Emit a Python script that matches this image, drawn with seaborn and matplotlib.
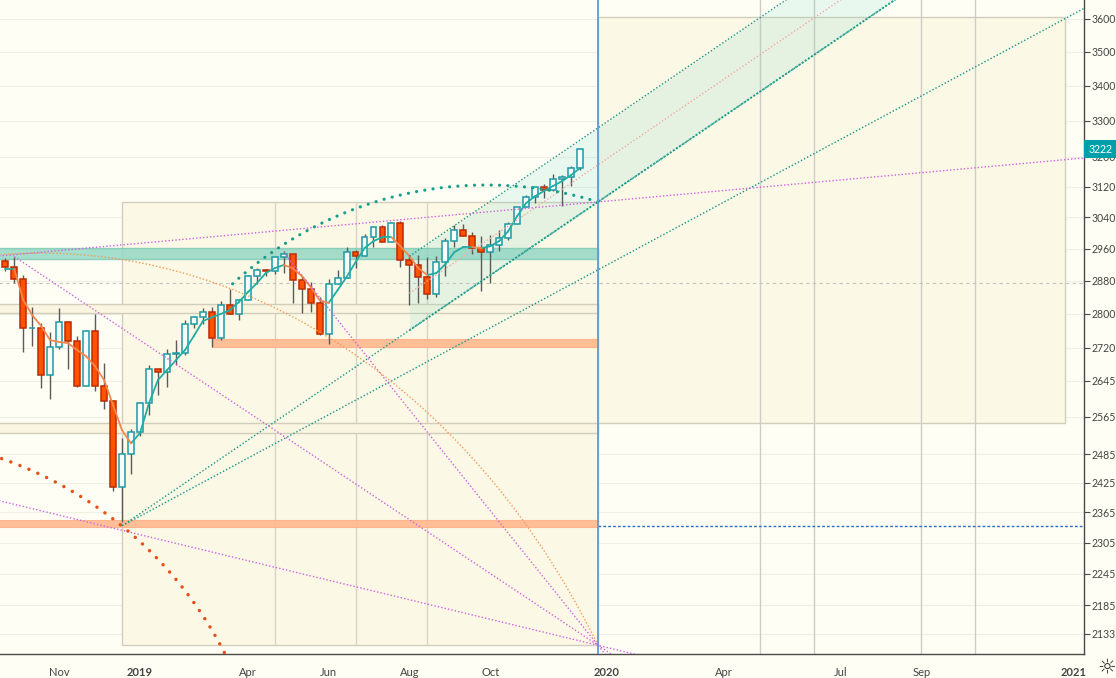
import numpy as np
import pandas as pd
import seaborn as sns
import matplotlib.pyplot as plt
from matplotlib.patches import Rectangle
from matplotlib.ticker import FixedLocator, NullLocator

# weekly S&P 500 candles, week of 2018-09-24 to week of 2019-12-16
first_week = "2018-09-24"

opens = [2929.67, 2913.98, 2885.57, 2767.13, 2767.78, 2658.69, 2723.06, 2781.01, 2736.27, 2632.56,
         2760.17, 2633.08, 2599.95, 2416.62, 2485.74, 2531.94, 2596.26, 2670.71, 2664.76, 2706.53,
         2707.88, 2775.60, 2792.67, 2803.69, 2743.07, 2822.48, 2800.71, 2834.40, 2892.74, 2907.41,
         2905.03, 2939.88, 2945.64, 2881.40, 2859.53, 2826.06, 2752.06, 2873.34, 2886.98, 2950.46,
         2941.76, 2990.41, 3013.77, 2976.61, 3025.86, 2932.05, 2918.65, 2888.68, 2847.11, 2926.46,
         2978.71, 3007.39, 2992.07, 2961.79, 2952.01, 2970.27, 2986.20, 3022.55, 3066.91, 3093.08,
         3120.46, 3110.29, 3140.98, 3145.91, 3168.80]
highs = [2937.0, 2939.9, 2894.8, 2816.9, 2778.9, 2756.6, 2815.2, 2782.0, 2746.8, 2760.9,
         2800.2, 2685.4, 2601.1, 2520.3, 2538.1, 2597.8, 2681.8, 2672.4, 2716.7, 2739.0,
         2785.0, 2794.2, 2813.5, 2816.9, 2830.7, 2860.3, 2836.0, 2893.4, 2910.5, 2909.6,
         2939.9, 2954.1, 2945.6, 2892.2, 2876.3, 2840.5, 2885.0, 2905.5, 2964.2, 2956.0,
         2995.8, 3017.8, 3021.0, 3028.0, 3029.3, 2943.3, 2943.9, 2939.1, 2940.4, 2985.9,
         3020.9, 3022.1, 3002.4, 2992.5, 2993.3, 3008.3, 3027.4, 3067.0, 3097.8, 3120.5,
         3127.6, 3154.3, 3150.6, 3176.3, 3225.7]
lows = [2903.3, 2874.3, 2710.5, 2724.7, 2628.2, 2603.5, 2717.0, 2670.8, 2631.1, 2632.5,
        2621.5, 2583.2, 2408.6, 2346.6, 2444.0, 2524.6, 2569.1, 2612.9, 2631.6, 2681.8,
        2703.8, 2767.7, 2775.1, 2722.3, 2739.5, 2800.7, 2785.7, 2834.4, 2873.3, 2891.3,
        2896.4, 2898.4, 2825.4, 2801.4, 2805.5, 2750.5, 2728.8, 2873.3, 2887.3, 2912.0,
        2941.7, 2963.4, 2976.3, 2976.6, 2914.1, 2822.1, 2825.7, 2835.0, 2839.6, 2891.9,
        2964.2, 2991.5, 2945.5, 2856.0, 2874.9, 2952.9, 2981.0, 3022.5, 3066.0, 3078.0,
        3091.4, 3109.0, 3070.3, 3123.0, 3166.0]
closes = [2913.98, 2885.57, 2767.13, 2767.78, 2658.69, 2723.06, 2781.01, 2736.27, 2632.56, 2760.17,
          2633.08, 2599.95, 2416.62, 2485.74, 2531.94, 2596.26, 2670.71, 2664.76, 2706.53, 2707.88,
          2775.60, 2792.67, 2803.69, 2743.07, 2822.48, 2800.71, 2834.40, 2892.74, 2907.41, 2905.03,
          2939.88, 2945.64, 2881.40, 2859.53, 2826.06, 2752.06, 2873.34, 2886.98, 2950.46, 2941.76,
          2990.41, 3013.77, 2976.61, 3025.86, 2932.05, 2918.65, 2888.68, 2847.11, 2926.46, 2978.71,
          3007.39, 2992.07, 2961.79, 2952.01, 2970.27, 2986.20, 3022.55, 3066.91, 3093.08, 3120.46,
          3110.29, 3140.98, 3145.91, 3168.80, 3221.22]
# moving average
ma_values = [2909, 2909, 2833, 2797, 2771, 2738, 2734, 2731, 2715, 2701,
             2678, 2647, 2591, 2536, 2508, 2530, 2595, 2647, 2669, 2692,
             2715, 2748, 2783, 2792, 2800, 2809, 2828, 2852, 2874, 2899,
             2911, 2919, 2911, 2892, 2865, 2833, 2826, 2857, 2889, 2926,
             2961, 2979, 2989, 2989, 2966, 2941, 2911, 2894, 2899, 2921,
             2951, 2964, 2964, 2961, 2966, 2979, 3004, 3043, 3077, 3095,
             3109, 3122, 3135, 3151, 3170]
last_price = 3222

month_ticks = ["2018-11", "2019-01", "2019-04", "2019-06", "2019-08", "2019-10",
               "2020-01", "2020-04", "2020-07", "2020-09", "2021-01"]
month_labels = ["Nov", "2019", "Apr", "Jun", "Aug", "Oct", "2020", "Apr", "Jul", "Sep", "2021"]
price_ticks = [3600, 3500, 3400, 3300, 3200, 3120, 3040, 2960, 2880, 2800,
               2720, 2645, 2565, 2485, 2425, 2365, 2305, 2245, 2185, 2133]

# drawings, as (week number, price)
pivot_low = (13, 2338)
box_main = (13, 66, 2112, 3080)
box_main_splits = [30, 39, 47]
box_future = (66, 118, 2551, 3604)
cycle_lines = [84, 90, 102, 108]
teal_zone = (2935, 2961)
support_zone = (23, 2723, 2740)
low_zone = (2336, 2349)
range_bands = [(2803, 2824), (2531, 2552)]
gray_level = 2874
blue_level = 2337.5
today = 66
fan_a = [(13, 2338), (66, 3080)]
fan_b = [(13, 2338), (66, 2907)]
channel_start = 45
channel_width = 1.065
# magenta rays: two anchor points, first and last week drawn
mag_lines = [([(66, 3080), (120, 3197)], -5, 125),
             ([(1, 2940), (66, 2112)], 1, 75),
             ([(31, 2950), (66, 2112)], 31, 75),
             ([(-1, 2390), (66, 2112)], -5, 75)]
# arcs: centre week, centre price, x radius (weeks), y radius (log price), angles
teal_arc = (53.6, 2268, 41.9, 0.3204, 72.8, 133.4)
orange_arc = (3.86, 1463, 72.94, 0.7009, 31.6, 100)
red_arc = (-15.04, 1798, 44.33, 0.3388, 10, 80)

BG = "#FEFEF5"
BOX = "#FBF8E6"
BOX_EDGE = "#D3CEBC"
TEAL = "#159484"
MAG = "#CF62DE"
AXIS = "#4A4A4A"


def ray(p0, p1, x_start, x_end):
    (x0, y0), (x1, y1) = p0, p1
    def at(x):
        return y0 * (y1 / y0) ** ((x - x0) / (x1 - x0))
    return [x_start, x_end], [at(x_start), at(x_end)]


def arc(cx, cp, rx, rlog, a0, a1):
    t = np.radians(np.linspace(a0, a1, 300))
    return cx + rx * np.cos(t), cp * np.exp(rlog * np.sin(t))


sns.set_theme(style="white", rc={"axes.facecolor": BG, "figure.facecolor": BG})
plt.rcParams["font.family"] = ["Lato", "DejaVu Sans"]

fig = plt.figure(figsize=(11.16, 6.78), dpi=100)
ax = fig.add_axes([0, 24 / 678, 1084 / 1116, 654 / 678])
ax.set_yscale("log")

# faint price grid
ax.hlines(price_ticks, -5, 125, color="#EFEFE4", lw=0.8, zorder=0.2)

# boxes and zones
x0, x1, p0, p1 = box_main
ax.add_patch(Rectangle((x0, p0), x1 - x0, p1 - p0, fc=BOX, ec=BOX_EDGE, lw=1, zorder=0.5))
ax.vlines(box_main_splits, p0, p1, color="#D8D3C4", lw=1, zorder=0.6)
x0, x1, p0, p1 = box_future
ax.add_patch(Rectangle((x0, p0), x1 - x0, p1 - p0, fc=BOX, ec=BOX_EDGE, lw=1, zorder=0.5))
ax.vlines(cycle_lines, 2000, 3800, color="#CDCDC8", lw=1, zorder=0.7)
for lo, hi in range_bands:
    ax.add_patch(Rectangle((-5, lo), today + 5, hi - lo, fc="#FAF5E0", ec=BOX_EDGE, lw=1, zorder=0.8))

ax.add_patch(Rectangle((-5, teal_zone[0]), today + 5, teal_zone[1] - teal_zone[0],
                       fc="#8ED6C2", ec="#7CC8B4", lw=1, alpha=0.8, zorder=1.2))
ax.add_patch(Rectangle((support_zone[0], support_zone[1]), today - support_zone[0],
                       support_zone[2] - support_zone[1], fc="#FFB88E", ec="#FFB088", lw=0.8,
                       alpha=0.9, zorder=1.2))
ax.add_patch(Rectangle((-5, low_zone[0]), today + 5, low_zone[1] - low_zone[0],
                       fc="#FFB88E", ec="#FFB088", lw=0.8, alpha=0.9, zorder=1.2))

# channel
cx, lower = ray(*fan_a, channel_start, 125)
upper = [v * channel_width for v in lower]
mid = [v * channel_width ** 0.5 for v in lower]
ax.fill_between(cx, lower, upper, color="#5CD0C0", alpha=0.13, lw=0, zorder=1)
ax.plot(cx, upper, color=TEAL, lw=1, ls=(0, (1, 1.5)), zorder=5)
ax.plot(cx, mid, color="#F0A8A0", lw=1, ls=(0, (1, 1.5)), zorder=5)
ax.plot(cx, lower, color="#2AA595", lw=1.4, ls=(0, (1, 1)), alpha=0.9, zorder=5)

# fan lines from the December low
for line in (fan_a, fan_b):
    xs, ys = ray(*line, pivot_low[0], 125)
    ax.plot(xs, ys, color=TEAL, lw=1, ls=(0, (1, 1.5)), zorder=5)

# candles
idx = np.arange(len(closes))
o, h, l, c = map(np.array, (opens, highs, lows, closes))
up = c >= o
ax.vlines(idx, l, h, color="#5A5A5A", lw=1, zorder=3)
bottom = np.minimum(o, c)
height = np.abs(c - o)
ax.bar(idx[up], height[up], bottom=bottom[up], width=0.66, fc="#F6FCF8", ec="#1D9AA6",
       lw=1.1, zorder=3.5)
ax.bar(idx[~up], height[~up], bottom=bottom[~up], width=0.66, fc="#FF5200", ec="#BE2A00",
       lw=1.1, zorder=3.5)

# moving average coloured by direction
rows = []
for i in range(1, len(ma_values)):
    trend = "up" if ma_values[i] >= ma_values[i - 1] else "down"
    rows.append({"bar": i - 1, "ma": ma_values[i - 1], "seg": i, "trend": trend})
    rows.append({"bar": i, "ma": ma_values[i], "seg": i, "trend": trend})
ma_df = pd.DataFrame(rows)
sns.lineplot(data=ma_df, x="bar", y="ma", hue="trend", units="seg", estimator=None,
             palette={"up": "#22ADA4", "down": "#F2874E"}, lw=1.3, legend=False,
             sort=False, ax=ax, zorder=4)

# magenta lines
for line, start, end in mag_lines:
    xs, ys = ray(*line, start, end)
    ax.plot(xs, ys, color=MAG, lw=1, ls=(0, (1, 1.5)), zorder=5)

# arcs
xs, ys = arc(*teal_arc)
ax.plot(xs, ys, color="#1A9C8A", lw=2.3, ls=(0, (0.01, 2.6)), dash_capstyle="round", zorder=5)
xs, ys = arc(*orange_arc)
ax.plot(xs, ys, color="#F39A55", lw=1, ls=(0, (1, 1.5)), zorder=5)
xs, ys = arc(*red_arc)
ax.plot(xs, ys, color="#E5501A", lw=2.5, ls=(0, (0.01, 2.8)), dash_capstyle="round", zorder=5)

# levels
ax.hlines(gray_level, -5, 125, color="#C4C4BC", lw=0.8, ls=(0, (3, 3)), zorder=2)
ax.hlines(blue_level, today, 125, color="#2C6FC2", lw=1, ls=(0, (2, 1.5)), zorder=5)
ax.axvline(today, color="#5E9CD3", lw=1.3, zorder=6)

# axes
weeks = pd.date_range(first_week, periods=122, freq="7D")
tick_pos = [int(np.argmax(weeks >= pd.Timestamp(m + "-01"))) for m in month_ticks]
ax.set_xlim(-0.59, 120.12)
ax.set_ylim(2096.4, 3657.3)
ax.set_xlabel("")
ax.set_ylabel("")
ax.set_xticks(tick_pos)
ax.set_xticklabels(month_labels)
for lab in ax.get_xticklabels():
    if lab.get_text().isdigit():
        lab.set_fontweight("bold")
ax.yaxis.tick_right()
ax.yaxis.set_major_locator(FixedLocator(price_ticks))
ax.yaxis.set_minor_locator(NullLocator())
ax.set_yticklabels([str(p) for p in price_ticks])
ax.tick_params(axis="both", which="major", length=4, width=0.8, color=AXIS,
               labelsize=7.6, labelcolor="#444444", direction="out")
ax.tick_params(axis="x", pad=5, labelsize=8)
ax.tick_params(axis="y", pad=1.5)
for side in ("top", "left"):
    ax.spines[side].set_visible(False)
for side in ("right", "bottom"):
    ax.spines[side].set_color(AXIS)
    ax.spines[side].set_linewidth(1)
ax.grid(False)

ax.annotate(str(last_price), xy=(1, closes[-1]), xycoords=("axes fraction", "data"),
            xytext=(3, 0), textcoords="offset points", ha="left", va="center",
            color="white", fontsize=7.6,
            bbox=dict(boxstyle="square,pad=0.35", fc="#00A0AA", ec="none"),
            annotation_clip=False, zorder=10)
fig.text(1107 / 1116, 1 - 667 / 678, "\u263c", ha="center", va="center", fontsize=15,
         color="#333333", family="DejaVu Sans")

fig.savefig("out.png", dpi=100, facecolor=BG)
